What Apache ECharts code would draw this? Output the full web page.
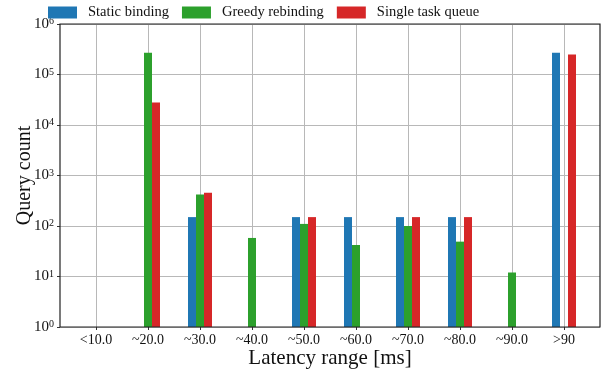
<!DOCTYPE html>
<html>
<head>
<meta charset="utf-8">
<script src="https://cdn.jsdelivr.net/npm/echarts@6/dist/echarts.min.js"></script>
<style>
  html, body { margin: 0; padding: 0; background: #fff; }
  #chart { width: 613px; height: 369px; }
</style>
</head>
<body>
<div id="chart"></div>
<script>
// Latency histogram: query counts per latency bucket for three scheduling strategies
const categories = ['<10.0', '~20.0', '~30.0', '~40.0', '~50.0', '~60.0', '~70.0', '~80.0', '~90.0', '>90'];
const staticBinding   = [null, null, 150, null, 150, 150, 150, 150, null, 270000];
const greedyRebinding = [null, 270000, 420, 58, 110, 42, 100, 49, 12, null];
const singleTaskQueue = [null, 28000, 455, null, 150, null, 150, 150, null, 250000];
const seriesNames = ['Static binding', 'Greedy rebinding', 'Single task queue'];
const seriesColors = ['#1f77b4', '#2ca02c', '#d62728'];

const FONT = '"Liberation Serif", "DejaVu Serif", serif';
const chart = echarts.init(document.getElementById('chart'), null, { renderer: 'canvas' });

function bar(name, data, color) {
  return {
    name: name, type: 'bar', data: data,
    xAxisIndex: 0, yAxisIndex: 0,
    barWidth: 8, barGap: '0%',
    clip: false,
    itemStyle: { color: color },
    emphasis: { disabled: true }
  };
}

chart.setOption({
  animation: false,
  textStyle: { fontFamily: FONT },
  legend: {
    top: 5, left: 48, padding: 0,
    itemWidth: 29, itemHeight: 12, itemGap: 13,
    icon: 'rect',
    textStyle: { fontFamily: FONT, fontSize: 14.5, color: '#111', padding: [0, 0, 0, 6] },
    data: seriesNames
  },
  grid: [
    { left: 96, right: 49, top: 24, bottom: 42, outerBoundsMode: 'none', containLabel: false },
    { left: 60, right: 13, top: 24, bottom: 42, outerBoundsMode: 'none', containLabel: false,
      show: true, borderColor: '#222', borderWidth: 1.2, backgroundColor: 'transparent', z: 3 }
  ],
  xAxis: [
    {
      type: 'category', gridIndex: 0, data: categories, boundaryGap: false,
      axisLine: { show: false },
      axisTick: { show: true, length: 3, lineStyle: { color: '#333' } },
      axisLabel: { fontFamily: FONT, fontSize: 14, color: '#111', margin: 6 },
      splitLine: { show: true, lineStyle: { color: '#b8b8b8', width: 1 } },
      name: 'Latency range [ms]', nameLocation: 'middle', nameGap: 21, nameMoveOverlap: false,
      nameTextStyle: { fontFamily: FONT, fontSize: 21, color: '#111' }
    },
    { type: 'value', gridIndex: 1, show: false, min: 0, max: 1 }
  ],
  yAxis: [
    { type: 'log', gridIndex: 0, min: 1, max: 1e6, logBase: 10, show: false },
    {
      type: 'log', gridIndex: 1, min: 1, max: 1e6, logBase: 10,
      axisLine: { show: false },
      axisTick: { show: true, length: 3, lineStyle: { color: '#333' } },
      axisLabel: {
        fontFamily: FONT, fontSize: 15, color: '#111', margin: 6,
        formatter: function (v) { return '10{s|' + Math.round(Math.log10(v)) + '}'; },
        rich: { s: { fontFamily: FONT, fontSize: 10, color: '#111', verticalAlign: 'top', padding: [0, 0, 3, 0] } }
      },
      splitLine: { show: true, lineStyle: { color: '#b8b8b8', width: 1 } },
      name: 'Query count', nameLocation: 'middle', nameGap: 25, nameRotate: 90, nameMoveOverlap: false,
      nameTextStyle: { fontFamily: FONT, fontSize: 20, color: '#111' }
    }
  ],
  series: [
    bar(seriesNames[0], staticBinding, seriesColors[0]),
    bar(seriesNames[1], greedyRebinding, seriesColors[1]),
    bar(seriesNames[2], singleTaskQueue, seriesColors[2])
  ]
});
</script>
</body>
</html>
